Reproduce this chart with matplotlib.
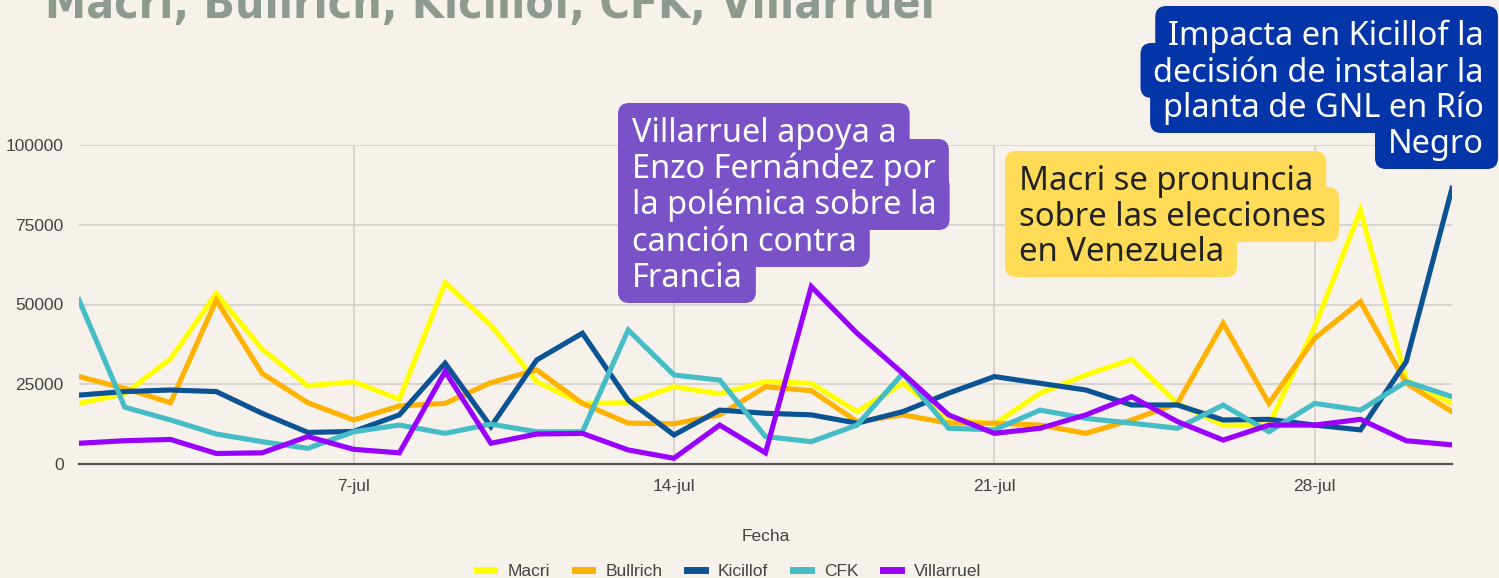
import matplotlib
matplotlib.use("Agg")
import matplotlib.pyplot as plt
from matplotlib import font_manager as fm
from matplotlib.lines import Line2D
from matplotlib.patches import FancyBboxPatch

# daily mentions, 1..31 July
days = list(range(1, 32))
macri = [19000, 22000, 33000, 53500, 36000, 24500, 25800, 20300, 56800, 43500,
         25800, 19000, 19200, 24200, 22000, 25800, 25300, 16400, 25300, 14300,
         12500, 22200, 27900, 32800, 19000, 12200, 12200, 43000, 79600, 26300, 19000]
bullrich = [27400, 23700, 19200, 51400, 28400, 19200, 13800, 18200, 19000, 25500,
            29500, 19000, 12800, 12600, 15400, 24200, 23000, 13300, 15400, 12800,
            12800, 12200, 9600, 13800, 19000, 44100, 19000, 39400, 50900, 25300, 16400]
kicillof = [21600, 22700, 23200, 22700, 15900, 9900, 10200, 15400, 31600, 11700,
            32600, 41000, 20000, 9100, 16900, 15900, 15400, 12800, 16400, 22200,
            27400, 25300, 23200, 18500, 18500, 13800, 14000, 12200, 10700, 32100, 86400]
cfk = [51400, 17800, 13800, 9400, 7000, 4900, 10100, 12200, 9600, 12500,
       10100, 10100, 42000, 27900, 26300, 8600, 7000, 12200, 28400, 11200,
       10700, 16900, 14300, 12800, 11200, 18500, 10100, 19000, 16900, 25800, 21100]
villarruel = [6500, 7300, 7700, 3300, 3500, 8600, 4600, 3500, 29000, 6500,
              9400, 9600, 4400, 1800, 12200, 3500, 55600, 41000, 28400, 15400,
              9600, 11200, 15400, 21100, 13300, 7500, 12200, 12200, 14000, 7300, 6000]

names = ["Macri", "Bullrich", "Kicillof", "CFK", "Villarruel"]
series = [macri, bullrich, kicillof, cfk, villarruel]
colors = ["#FFFF00", "#FFB200", "#0B5394", "#46BDC6", "#9900FF"]

xticks = [7, 14, 21, 28]
xlabels = ["7-jul", "14-jul", "21-jul", "28-jul"]
yticks = [0, 25000, 50000, 75000, 100000]

title = "Macri, Bullrich, Kicillof, CFK, Villarruel"
note_villarruel = ["Villarruel apoya a", "Enzo Fernández por", "la polémica sobre la",
                   "canción contra", "Francia"]
note_macri = ["Macri se pronuncia", "sobre las elecciones", "en Venezuela"]
note_kicillof = ["Impacta en Kicillof la", "decisión de instalar la",
                 "planta de GNL en Río", "Negro"]

BG = "#F6F1EB"
W, H = 1499, 578

fig = plt.figure(figsize=(W / 100, H / 100), dpi=100, facecolor=BG)
ax = fig.add_axes([79 / W, 1 - 464 / H, (1452 - 79) / W, (464 - 145) / H])
ax.set_facecolor(BG)

for s, c, n in zip(series, colors, names):
    ax.plot(days, s, color=c, lw=3.7, label=n, solid_joinstyle="miter", zorder=3)

ax.set_xlim(1, 31)
ax.set_ylim(0, 100000)
ax.set_xticks(xticks)
ax.set_xticklabels(xlabels)
ax.set_yticks(yticks)
ax.set_yticklabels([str(v) for v in yticks])
ax.grid(True, color="#D3D0CC", lw=1.2)
ax.set_axisbelow(True)
for sp in ["top", "right", "left"]:
    ax.spines[sp].set_visible(False)
ax.spines["bottom"].set_color("#555555")
ax.spines["bottom"].set_linewidth(1.6)
ax.tick_params(length=0, labelsize=12.5, labelcolor="#444444", pad=11,
               labelfontfamily="Liberation Sans")
ax.set_xlabel("Fecha", fontsize=12.5, color="#444444", family="Liberation Sans",
              labelpad=25)

handles = [Line2D([], [], color=c, lw=5) for c in colors]
fig.legend(handles, names, loc="center", bbox_to_anchor=(729 / W, 1 - 571 / H),
           ncol=5, frameon=False, handlelength=1.0, handletextpad=0.75,
           columnspacing=1.45, prop={"family": "Liberation Sans", "size": 12.5},
           labelcolor="#444444")

# overlay in pixel coordinates for title and callouts
over = fig.add_axes([0, 0, 1, 1], zorder=10)
over.set_xlim(0, W)
over.set_ylim(H, 0)
over.axis("off")
over.patch.set_visible(False)
renderer = fig.canvas.get_renderer()

avail = {f.name for f in fm.fontManager.ttflist}
tfam = "Liberation Sans Narrow" if "Liberation Sans Narrow" in avail else "DejaVu Sans"
t = over.text(45, 18, title, ha="left", va="baseline", fontsize=30,
              fontweight="bold", family=tfam, color="#8C9A90",
              fontstretch="condensed")
tw = t.get_window_extent(renderer).width
t.set_fontsize(30 * 886 / tw)


def fit_size(line, target):
    tmp = over.text(0, 0, line, fontsize=22, family="Noto Sans")
    w = tmp.get_window_extent(renderer).width
    tmp.remove()
    return 22 * target / w


def bubble(lines, x, baselines, fc, tc, size, ha="left"):
    for s, yb in zip(lines, baselines):
        tx = over.text(x, yb, s, ha=ha, va="baseline", color=tc, fontsize=size,
                       family="Noto Sans", zorder=5)
        w = tx.get_window_extent(renderer).width
        x0 = x - 14 if ha == "left" else x - w - 13
        over.add_patch(FancyBboxPatch((x0, yb - 39), w + 27, 55,
                                      boxstyle="round,pad=0,rounding_size=11",
                                      fc=fc, ec="none", zorder=4))


bubble(note_villarruel, 632, [142, 178, 214, 251, 287], "#7A52C8", "white",
       fit_size(note_villarruel[2], 305))
bubble(note_macri, 1019, [190, 226, 261], "#FFDB58", "#222222",
       fit_size(note_macri[1], 308))
bubble(note_kicillof, 1484, [45, 82, 117, 153], "#0335A8", "white",
       fit_size(note_kicillof[1], 331), ha="right")

fig.savefig("out.png", dpi=100, facecolor=BG)
